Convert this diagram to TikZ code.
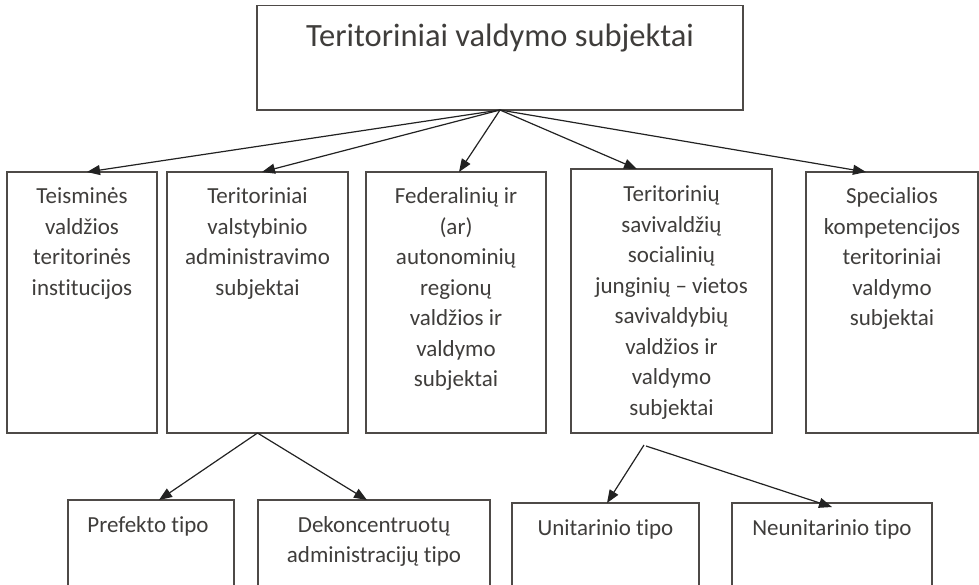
\documentclass[tikz,border=0pt]{standalone}
\usepackage{fontspec}
\setmainfont{Carlito}[Ligatures=CommonOff]
\usetikzlibrary{arrows.meta,positioning}
\definecolor{inkgray}{HTML}{3F3D3B}
\definecolor{framegray}{HTML}{4E4A47}
\definecolor{arrowgray}{HTML}{222222}

\begin{document}
\begin{tikzpicture}[x=1pt,y=1pt,
  box/.style={draw=framegray,line width=1.3pt,outer sep=0pt,minimum height=261pt},
  txt/.style={align=center,inner sep=0pt,text=inkgray,
    font=\fontsize{23pt}{30.5pt}\selectfont},
  a/.style={-{Triangle[length=13pt,width=10pt]},line width=1.2pt,draw=arrowgray}
]
\useasboundingbox (0,0) rectangle (979,-585);
\clip (0,0) rectangle (979,-585);

\node[box,minimum width=486pt,minimum height=104.5pt] (top) at (500,-57.75) {};
\node[txt,anchor=base,font=\fontsize{32.5pt}{38pt}\selectfont] (topT)
  at ([yshift=-41pt]top.north) {Teritoriniai valdymo subjektai};

\node[box,minimum width=150pt,anchor=north west] (teism) at (7,-172) {};
\node[box,minimum width=181pt,right=10pt of teism] (terval) {};
\node[box,minimum width=180pt,right=18pt of terval] (feder) {};
\node[box,minimum width=201pt,minimum height=264pt,
  right=25pt of feder.south east,anchor=south west] (saviv) {};
\node[box,minimum width=172pt,
  right=34pt of saviv.south east,anchor=south west] (spec) {};

\node[txt,below=10pt of teism.north] (teismT) {\strut Teisminės\\valdžios\\
teritorinės\\institucijos};
\node[txt,below=10pt of terval.north] (tervalT) {\strut Teritoriniai\\
valstybinio\\administravimo\\subjektai};
\node[txt,below=10pt of feder.north] (federT) {\strut Federalinių ir\\(ar)\\
autonominių\\regionų\\valdžios ir\\valdymo\\subjektai};
\node[txt,below=11pt of saviv.north] (savivT) {\strut Teritorinių\\
savivaldžių\\socialinių\\junginių -- vietos\\savivaldybių\\valdžios ir\\
valdymo\\subjektai};
\node[txt,below=10pt of spec.north] (specT) {\strut Specialios\\
kompetencijos\\teritoriniai\\valdymo\\subjektai};

\node[box,minimum width=166pt,minimum height=110pt,anchor=north west] (pref)
  at (68,-500) {};
\node[box,minimum width=232pt,minimum height=110pt,right=24pt of pref] (dekonc) {};
\node[box,minimum width=187pt,minimum height=110pt,anchor=north west] (unitar)
  at (512,-503) {};
\node[box,minimum width=200pt,minimum height=110pt,right=33pt of unitar] (neunit) {};

\node[txt,below=10.5pt of pref.north,xshift=-3pt] (prefT) {\strut Prefekto tipo};
\node[txt,below=10.5pt of dekonc.north] (dekoncT) {\strut Dekoncentruotų\\
administracijų tipo};
\node[txt,below=10.5pt of unitar.north] (unitarT) {\strut Unitarinio tipo};
\node[txt,below=10.5pt of neunit.north] (neunitT) {\strut Neunitarinio tipo};

\coordinate (split) at (644,-445);

\draw[a] (top.south) -- ([xshift=5pt]teism.north);
\draw[a] (top.south) -- ([xshift=4.5pt]terval.north);
\draw[a] (top.south) -- ([xshift=3pt]feder.north);
\draw[a] (top.south) -- ([xshift=-34.5pt]saviv.north);
\draw[a] (top.south) -- ([xshift=-26pt]spec.north);

\draw[a] (terval.south) -- ([xshift=8pt]pref.north);
\draw[a] (terval.south) -- ([xshift=-7pt]dekonc.north);
\draw[a] (split) -- ([xshift=1.5pt]unitar.north);
\draw[a] ([shift={(2pt,-1pt)}]split) -- ([yshift=-4pt]neunit.north);
\end{tikzpicture}
\end{document}
